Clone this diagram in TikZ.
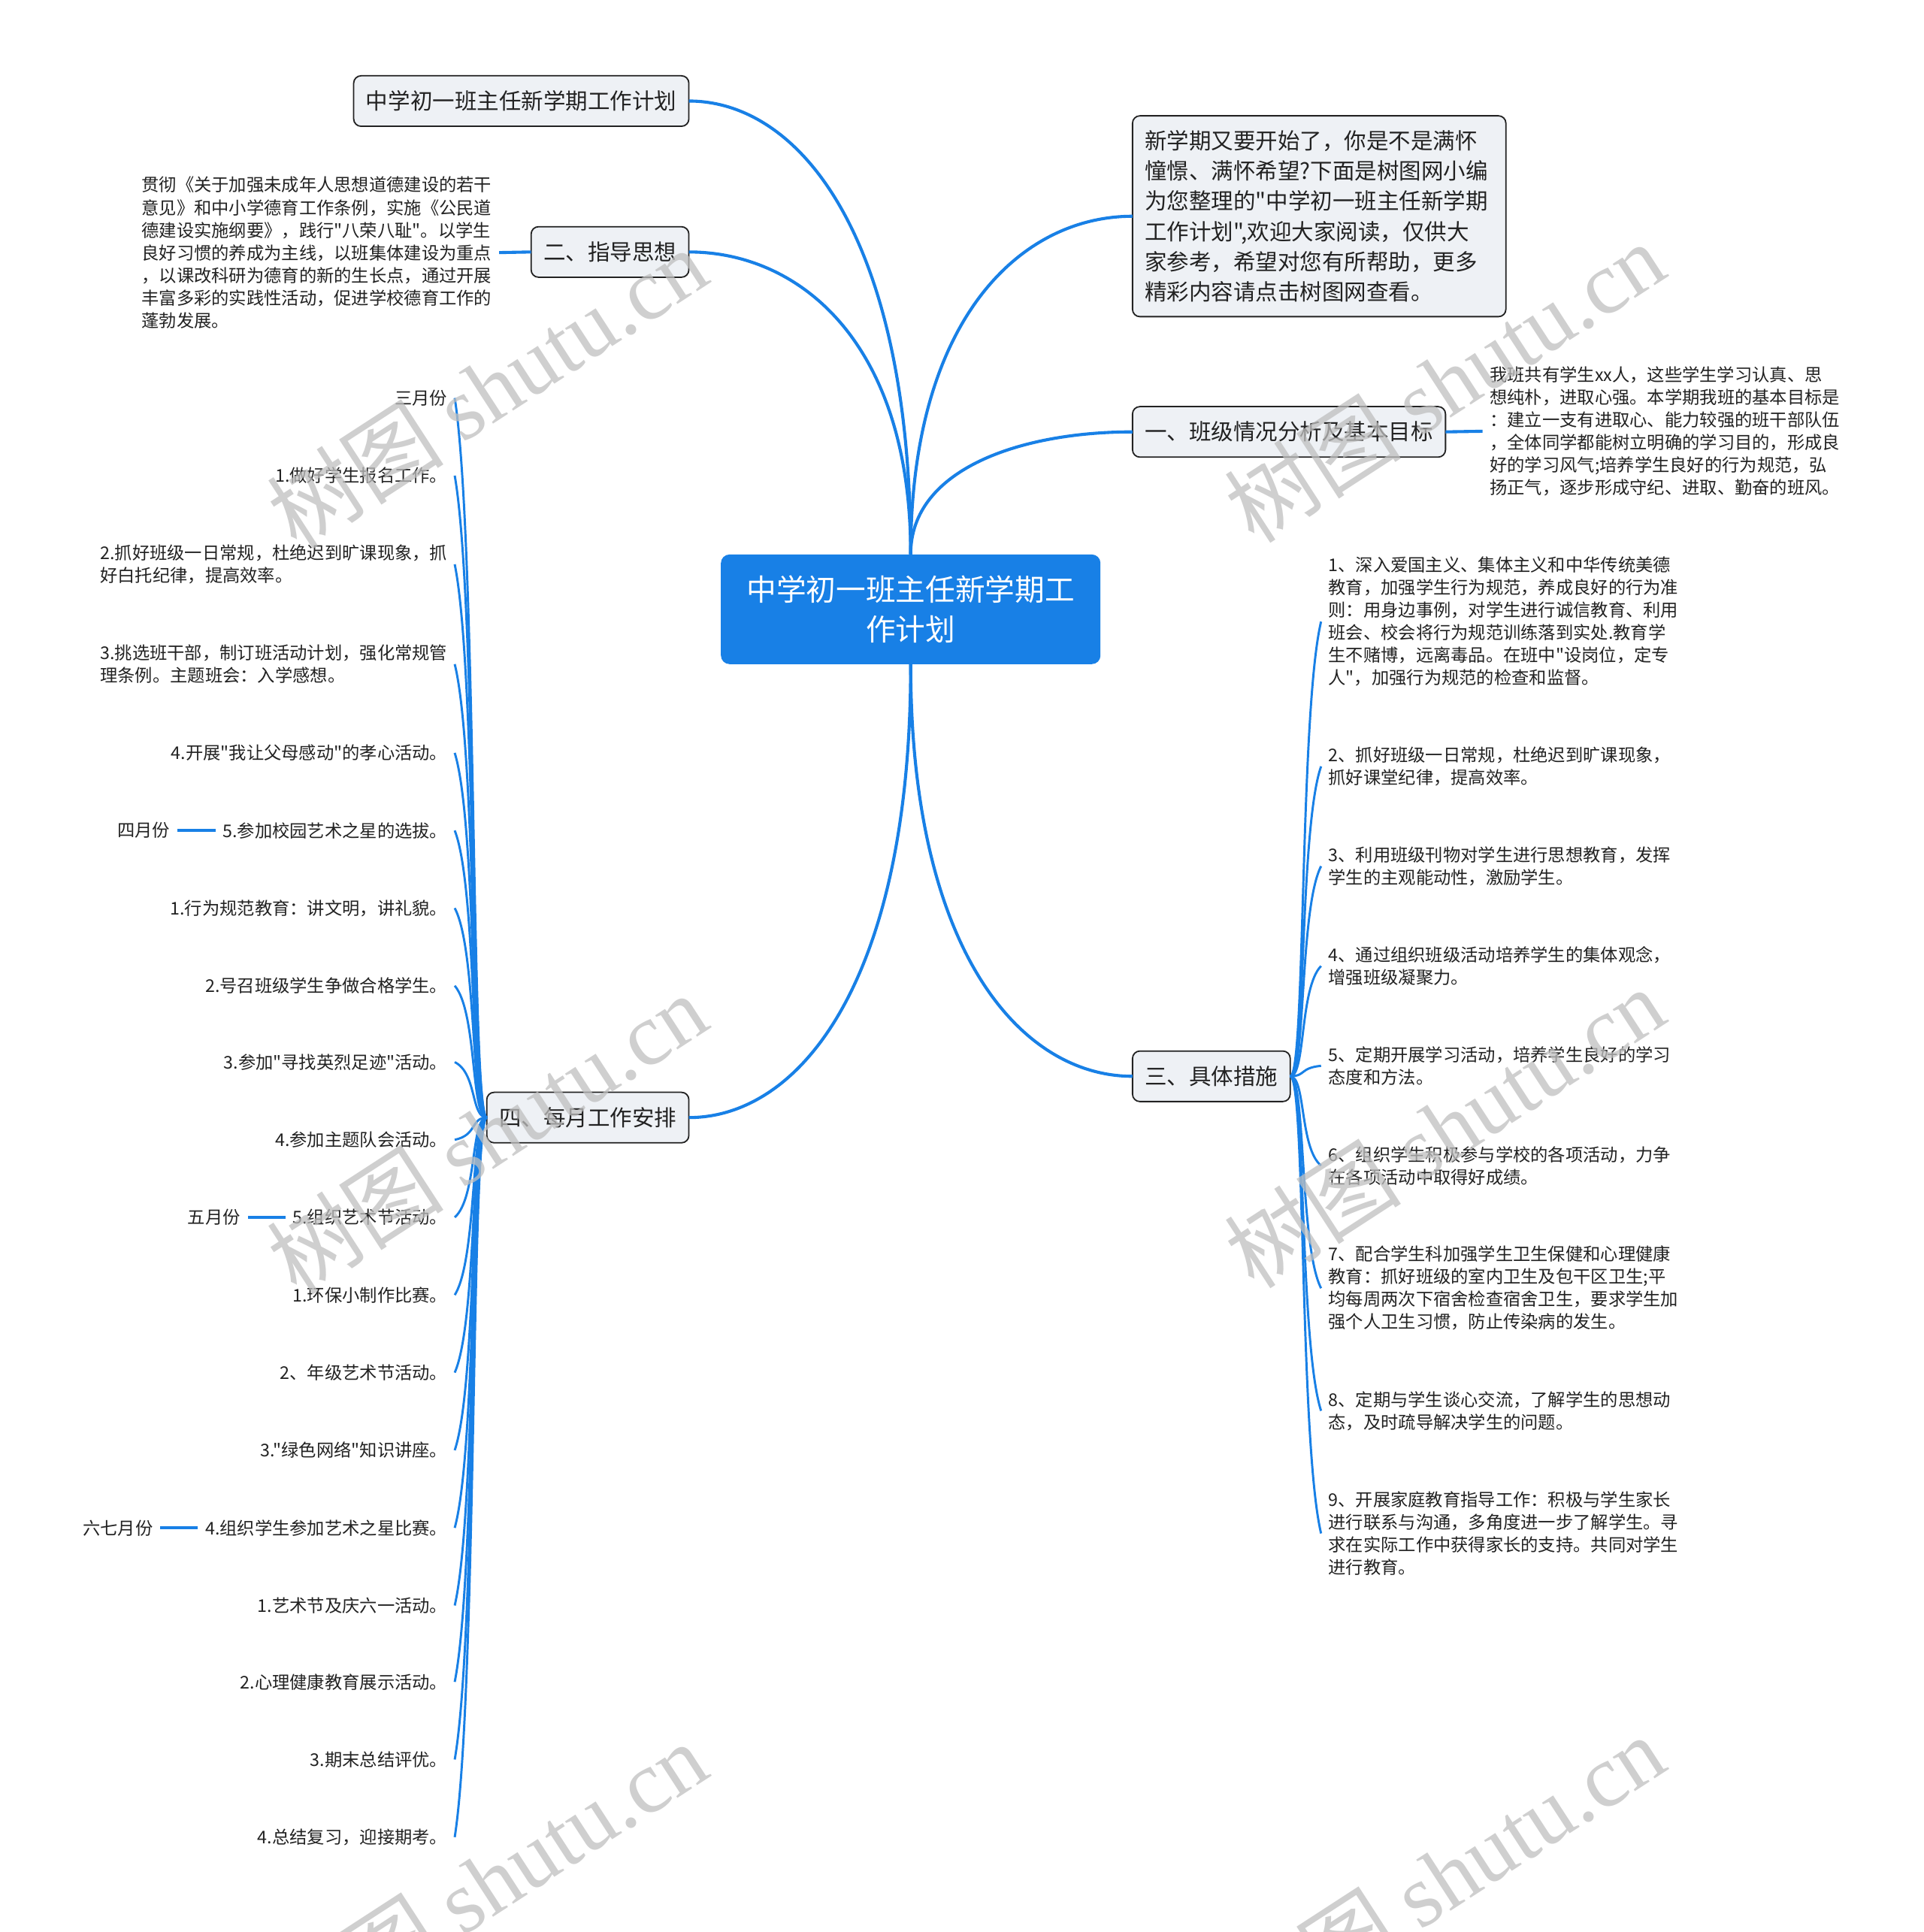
\documentclass[tikz,border=0pt]{standalone}
\usepackage{fontspec}
\newfontfamily\cjkf{Noto Sans CJK SC}
\newfontfamily\wmlatin{Liberation Serif}
\usetikzlibrary{calc}
\definecolor{mmblue}{RGB}{24,128,230}
\definecolor{nodefill}{RGB}{238,241,245}
\definecolor{txt}{RGB}{34,34,34}
\tikzset{
  lvlone/.style={draw=txt, line width=1.1pt, fill=nodefill, rounded corners=6pt,
    inner xsep=10pt, inner ysep=0pt, minimum height=41pt,
    font=\cjkf\fontsize{18}{24.5}\selectfont, text=txt, outer sep=0pt},
  rootnode/.style={fill=mmblue, rounded corners=7pt, minimum width=308pt,
    minimum height=89pt, align=center, text=white, inner sep=0pt,
    font=\cjkf\fontsize{24.2}{32}\selectfont},
  item/.style={inner sep=0pt, outer xsep=6pt, outer ysep=0pt, align=left,
    font=\cjkf\fontsize{14.2}{18.3}\selectfont, text=txt},
  mainbr/.style={draw=mmblue, line width=2.5pt,
    to path={.. controls ($(\tikztostart)!0.7!(\tikztostart|-\tikztotarget)$)
      and ($(\tikztotarget)!0.5!(\tikztotarget-|\tikztostart)$) .. (\tikztotarget)}},
  subbr/.style={draw=mmblue, line width=1.8pt,
    to path={.. controls ($(\tikztostart)!0.5!(\tikztostart-|\tikztotarget)$)
      and ($(\tikztotarget)!0.5!(\tikztostart|-\tikztotarget) + 0.2*(\tikztostart) - 0.2*(\tikztotarget)$) .. (\tikztotarget)}},
  link/.style={draw=mmblue, line width=2.5pt},
  wm/.style={rotate=33, text=black!25, text opacity=0.75, inner sep=0pt,
    font=\cjkf\fontsize{72}{72}\selectfont}
}
\begin{document}
\begin{tikzpicture}[x=1pt,y=-1pt]
\fill[white] (0,0) rectangle (1561,1568);
\useasboundingbox (0,0) rectangle (1561,1568);

% root
\node[rootnode] (c) at (739,494.5) {中学初一班主任新学期工\\作计划};

% level one
\node[lvlone, anchor=east] (top) at (559,82) {中学初一班主任新学期工作计划};
\node[lvlone, anchor=east] (g2) at (559,204.5) {二、指导思想};
\node[lvlone, anchor=east] (g4) at (559,907) {四、每月工作安排};
\node[lvlone, anchor=west, text width=283pt, align=left, minimum height=163pt] (intro) at (919,175.5)
 {新学期又要开始了，你是不是满怀\\憧憬、满怀希望?下面是树图网小编\\为您整理的"中学初一班主任新学期\\工作计划",欢迎大家阅读，仅供大\\家参考，希望对您有所帮助，更多\\精彩内容请点击树图网查看。};
\node[lvlone, anchor=west] (g1) at (919,350.5) {一、班级情况分析及基本目标};
\node[lvlone, anchor=west] (g3) at (919,873.5) {三、具体措施};

% paragraphs
\node[item, anchor=east] (p2) at (405,205) {贯彻《关于加强未成年人思想道德建设的若干\\意见》和中小学德育工作条例，实施《公民道\\德建设实施纲要》，践行"八荣八耻"。以学生\\良好习惯的养成为主线，以班集体建设为重点\\，以课改科研为德育的新的生长点，通过开展\\丰富多彩的实践性活动，促进学校德育工作的\\蓬勃发展。};
\node[item, anchor=west] (p1) at (1203,350) {我班共有学生xx人，这些学生学习认真、思\\想纯朴，进取心强。本学期我班的基本目标是\\：建立一支有进取心、能力较强的班干部队伍\\，全体同学都能树立明确的学习目的，形成良\\好的学习风气;培养学生良好的行为规范，弘\\扬正气，逐步形成守纪、进取、勤奋的班风。};

% right items
\node[item, anchor=west] (R1) at (1072,504.5) {1、深入爱国主义、集体主义和中华传统美德\\教育，加强学生行为规范，养成良好的行为准\\则：用身边事例，对学生进行诚信教育、利用\\班会、校会将行为规范训练落到实处.教育学\\生不赌博，远离毒品。在班中"设岗位，定专\\人"，加强行为规范的检查和监督。};
\node[item, anchor=west] (R2) at (1072,622) {2、抓好班级一日常规，杜绝迟到旷课现象，\\抓好课堂纪律，提高效率。};
\node[item, anchor=west] (R3) at (1072,703) {3、利用班级刊物对学生进行思想教育，发挥\\学生的主观能动性，激励学生。};
\node[item, anchor=west] (R4) at (1072,784) {4、通过组织班级活动培养学生的集体观念，\\增强班级凝聚力。};
\node[item, anchor=west] (R5) at (1072,865) {5、定期开展学习活动，培养学生良好的学习\\态度和方法。};
\node[item, anchor=west] (R6) at (1072,946) {6、组织学生积极参与学校的各项活动，力争\\在各项活动中取得好成绩。};
\node[item, anchor=west] (R7) at (1072,1045.5) {7、配合学生科加强学生卫生保健和心理健康\\教育：抓好班级的室内卫生及包干区卫生;平\\均每周两次下宿舍检查宿舍卫生，要求学生加\\强个人卫生习惯，防止传染病的发生。};
\node[item, anchor=west] (R8) at (1072,1145) {8、定期与学生谈心交流，了解学生的思想动\\态，及时疏导解决学生的问题。};
\node[item, anchor=west] (R9) at (1072,1244.5) {9、开展家庭教育指导工作：积极与学生家长\\进行联系与沟通，多角度进一步了解学生。寻\\求在实际工作中获得家长的支持。共同对学生\\进行教育。};

% left items
\node[item, anchor=east] (L0) at (369,323) {三月份};
\node[item, anchor=east] (L1) at (369,386) {1.做好学生报名工作。};
\node[item, anchor=east] (L2) at (369,458) {2.抓好班级一日常规，杜绝迟到旷课现象，抓\\好白托纪律，提高效率。};
\node[item, anchor=east] (L3) at (369,539) {3.挑选班干部，制订班活动计划，强化常规管\\理条例。主题班会：入学感想。};
\node[item, anchor=east] (L4) at (369,611) {4.开展"我让父母感动"的孝心活动。};
\node[item, anchor=east] (L5) at (369,674) {5.参加校园艺术之星的选拔。};
\node[item, anchor=east] (L6) at (369,737) {1.行为规范教育：讲文明，讲礼貌。};
\node[item, anchor=east] (L7) at (369,800) {2.号召班级学生争做合格学生。};
\node[item, anchor=east] (L8) at (369,862) {3.参加"寻找英烈足迹"活动。};
\node[item, anchor=east] (L9) at (369,925) {4.参加主题队会活动。};
\node[item, anchor=east] (L10) at (369,988) {5.组织艺术节活动。};
\node[item, anchor=east] (L11) at (369,1051) {1.环保小制作比赛。};
\node[item, anchor=east] (L12) at (369,1114) {2、年级艺术节活动。};
\node[item, anchor=east] (L13) at (369,1177) {3."绿色网络"知识讲座。};
\node[item, anchor=east] (L14) at (369,1240) {4.组织学生参加艺术之星比赛。};
\node[item, anchor=east] (L15) at (369,1303) {1.艺术节及庆六一活动。};
\node[item, anchor=east] (L16) at (369,1365) {2.心理健康教育展示活动。};
\node[item, anchor=east] (L17) at (369,1428) {3.期末总结评优。};
\node[item, anchor=east] (L18) at (369,1491) {4.总结复习，迎接期考。};

% month labels
\node[item, anchor=east] (M4) at (144,674) {四月份};
\node[item, anchor=east] (M5) at (201,988) {五月份};
\node[item, anchor=east] (M67) at (130,1240) {六七月份};

% main branches
\draw[mainbr] (c.north) to (top.east);
\draw[mainbr] (c.north) to (g2.east);
\draw[mainbr] (c.north) to (intro.west);
\draw[mainbr] (c.north) to (g1.west);
\draw[mainbr] (c.south) to (g4.east);
\draw[mainbr] (c.south) to (g3.west);

% short links
\draw[link] (g2.west) -- (p2.east);
\draw[link] (g1.east) -- (p1.west);
\draw[link] (L5.west) -- (M4.east);
\draw[link] (L10.west) -- (M5.east);
\draw[link] (L14.west) -- (M67.east);

% sub branches
\foreach \i in {0,...,18} \draw[subbr] (g4.west) to (L\i.east);
\foreach \i in {1,...,9} \draw[subbr] (g3.east) to (R\i.west);

% watermarks
\foreach \wx/\wy [count=\k] in {395/315,1172/310,395/920,1172/915,395/1527,1172/1522}
  \node[wm] (wm\k) at (\wx,\wy) {树图 {\wmlatin shutu.cn}};
\end{tikzpicture}
\end{document}
